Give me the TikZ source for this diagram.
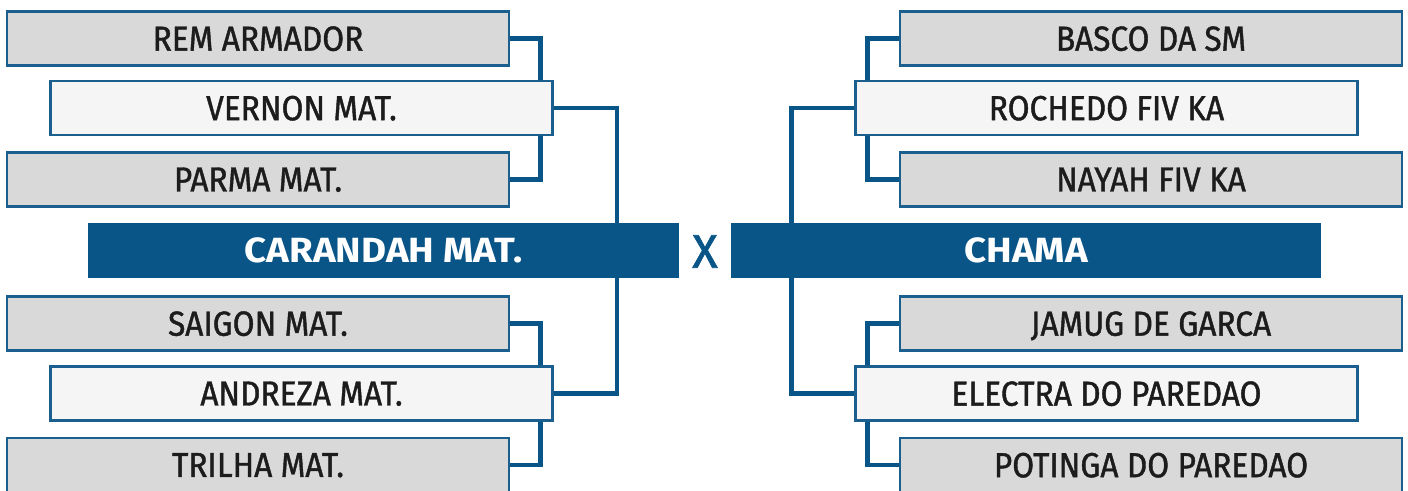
\documentclass[tikz,border=0pt]{standalone}
\usepackage{fontspec}
\newfontfamily\labfont{Fira Sans}[FakeStretch=0.91,FakeBold=1.2]
\newfontfamily\barfont{Fira Sans}[FakeStretch=1.1,UprightFont=* Bold]
\newfontfamily\vsfont{Fira Sans}[FakeBold=1.5]
\definecolor{navy}{HTML}{0A5587}
\definecolor{edge}{HTML}{1B5F8E}
\definecolor{grayfill}{HTML}{D9D9D9}
\definecolor{whitefill}{HTML}{F5F5F5}
\definecolor{ink}{HTML}{1C1C1C}
\pgfdeclarelayer{background}
\pgfsetlayers{background,main}
\begin{document}
\begin{tikzpicture}[x=1pt,y=-1pt,
  team/.style={draw=edge,line width=2.6pt,rectangle,inner sep=0pt,
    minimum width=502pt,minimum height=54pt,text=ink,
    font=\labfont\fontsize{34.8}{36}\selectfont,text depth=0pt},
  grayteam/.style={team,fill=grayfill},
  whiteteam/.style={team,fill=whitefill},
  finalist/.style={rectangle,fill=navy,inner sep=0pt,minimum height=55pt,
    text=white,font=\barfont\fontsize{35}{38}\selectfont,text depth=0pt},
  link/.style={draw=navy,line width=4.6pt}]
\useasboundingbox (0,0) rectangle (1408,490);
% left column
\node[grayteam]  (rem)     at (258,38.5)    {REM ARMADOR};
\node[whiteteam] (vernon)  at (301.5,108) {VERNON MAT.};
\node[grayteam]  (parma)   at (258,179.5) {PARMA MAT.};
\node[grayteam]  (saigon)  at (258,323.5) {SAIGON MAT.};
\node[whiteteam] (andreza) at (301.5,393.5) {ANDREZA MAT.};
\node[grayteam]  (trilha)  at (258,465)   {TRILHA MAT.};
% right column
\node[grayteam]  (basco)   at (1151,38.5)    {BASCO DA SM};
\node[whiteteam] (rochedo) at (1106.5,108) {ROCHEDO FIV KA};
\node[grayteam]  (nayah)   at (1151,179.5) {NAYAH FIV KA};
\node[grayteam]  (jamug)   at (1151,323.5) {JAMUG DE GARCA};
\node[whiteteam] (electra) at (1106.5,393.5) {ELECTRA DO PAREDAO};
\node[grayteam]  (potinga) at (1151,465)   {POTINGA DO PAREDAO};
% finalists
\node[finalist,minimum width=591pt] (carandah) at (383.5,250) {CARANDAH MAT.};
\node[finalist,minimum width=590pt] (chama) at (1026,250) {CHAMA};
\node[text=navy,font=\vsfont\fontsize{47}{48}\selectfont,inner sep=0pt,text depth=0pt] (vs) at (705,251.5) {X};
% connectors behind the boxes
\begin{pgfonlayer}{background}
\draw[link] (rem.east) -- ++(30,0) |- (parma.east);
\draw[link] (saigon.east) -- ++(30,0) |- (trilha.east);
\draw[link] (vernon.east) -- ++(63,0) |- (andreza.east);
\draw[link] (basco.west) -- ++(-31,0) |- (nayah.west);
\draw[link] (jamug.west) -- ++(-31,0) |- (potinga.west);
\draw[link] (rochedo.west) -- ++(-63,0) |- (electra.west);
\end{pgfonlayer}
\end{tikzpicture}
\end{document}
